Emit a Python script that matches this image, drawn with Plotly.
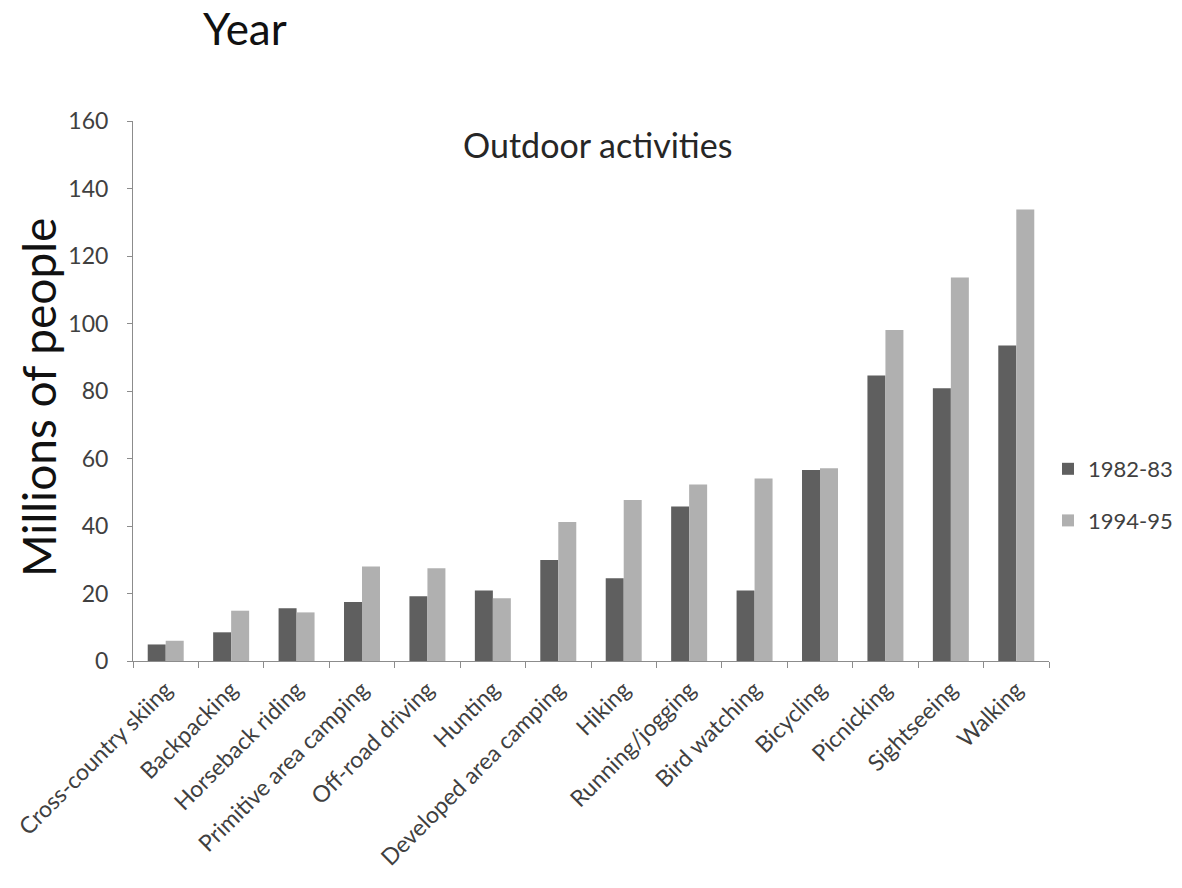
import plotly.graph_objects as go

categories = ["Cross-country skiing", "Backpacking", "Horseback riding", "Primitive area camping",
              "Off-road driving", "Hunting", "Developed area camping", "Hiking", "Running/jogging",
              "Bird watching", "Bicycling", "Picnicking", "Sightseeing", "Walking"]
values_1982 = [4.9, 8.5, 15.6, 17.5, 19.2, 20.9, 29.9, 24.5, 45.8, 20.9, 56.6, 84.6, 80.8, 93.5]
values_1994 = [6.0, 14.9, 14.4, 28.0, 27.5, 18.6, 41.2, 47.7, 52.3, 54.1, 57.1, 98.1, 113.6, 133.8]
series_names = ["1982-83", "1994-95"]
y_ticks = [0, 20, 40, 60, 80, 100, 120, 140, 160]

FONT = "Lato, 'Open Sans', sans-serif"
L, R, T, B = 133, 133, 121, 227
W, H = 1182 - L - R, 888 - T - B


def px_x(x):
    return (x - L) / W


def px_y(y):
    return (T + H - y) / H


fig = go.Figure()
fig.add_bar(x=categories, y=values_1982, name=series_names[0], marker_color="#5f5f5f",
            marker_line_width=0, legendgroup="a")
fig.add_bar(x=categories, y=values_1994, name=series_names[1], marker_color="#b0b0b0",
            marker_line_width=0, legendgroup="b")

fig.update_layout(
    width=1182, height=888,
    margin=dict(l=L, r=R, t=T, b=B, autoexpand=False),
    paper_bgcolor="white", plot_bgcolor="white",
    barmode="group", bargap=0.45, bargroupgap=0,
    font=dict(family=FONT, color="#404040"),
    showlegend=True,
    legend=dict(x=px_x(1048), y=px_y(448), xanchor="left", yanchor="top",
                font=dict(size=22, color="#404040", family=FONT),
                tracegroupgap=20, itemwidth=30, bgcolor="rgba(0,0,0,0)"),
    xaxis=dict(showline=True, linecolor="#8c8c8c", linewidth=1,
               ticks="outside", tickson="boundaries", ticklen=6, tickcolor="#8c8c8c",
               ticklabelstandoff=5,
               tickangle=-45, tickfont=dict(size=23, color="#404040", family=FONT),
               showgrid=False, zeroline=False),
    yaxis=dict(range=[0, 160], tickvals=y_ticks, showline=True, linecolor="#8c8c8c",
               linewidth=1, ticks="outside", ticklen=5, tickcolor="#8c8c8c",
               ticklabelstandoff=14,
               tickfont=dict(size=23, color="#404040", family=FONT),
               showgrid=False, zeroline=False),
    annotations=[
        dict(text="Outdoor activities", x=px_x(597), y=px_y(145), xref="paper", yref="paper",
             xanchor="center", yanchor="middle",
             showarrow=False, font=dict(size=34, color="#262626", family=FONT)),
        dict(text="Year", x=px_x(245), y=px_y(28), xref="paper", yref="paper",
             xanchor="center", yanchor="middle",
             showarrow=False, font=dict(size=44, color="#111111", family=FONT)),
        dict(text="Millions of people", x=px_x(38), y=px_y(398), xref="paper", yref="paper",
             xanchor="center", yanchor="middle",
             textangle=-90, showarrow=False, font=dict(size=46, color="#111111", family=FONT)),
    ],
)

fig.write_html("out.html")
